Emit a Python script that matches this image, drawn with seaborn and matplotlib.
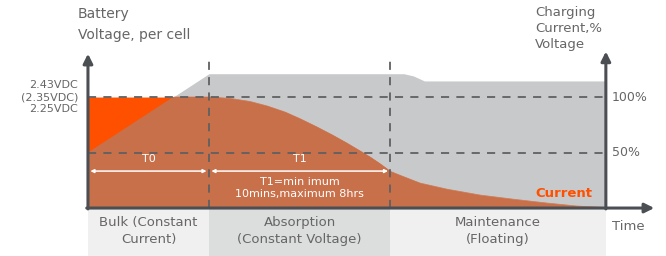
import pandas as pd
import matplotlib
matplotlib.use("Agg")
import matplotlib.pyplot as plt
import seaborn as sns

# charging stages (time in arbitrary units, T0 ends at 1, T1 ends at 2.5)
stage_names = ["Bulk (Constant\nCurrent)", "Absorption\n(Constant Voltage)", "Maintenance\n(Floating)"]
stage_edges = [0.0, 1.0, 2.5, 4.28]

# voltage curve, % of nominal
volt_t = [0.0, 1.0, 2.5, 2.61, 2.69, 2.78, 4.28]
volt_pct = [50, 121, 121, 121, 119, 114.5, 114.5]

# current curve, % of max
cur_t = [0.0, 1.0, 1.174, 1.339, 1.479, 1.628, 1.752, 1.893, 2.025, 2.140, 2.248,
         2.331, 2.413, 2.5, 2.579, 2.744, 2.967, 3.240, 3.512, 3.793, 4.041, 4.28]
cur_pct = [100, 100, 98.8, 96, 92, 86.5, 80.5, 73, 65.5, 58.5, 51.5,
           46, 40, 33, 29.5, 22.5, 17, 11.7, 8, 4.5, 1.8, 0.5]

pct_ticks = [100, 50]
pct_labels = ["100%", "50%"]

GRAY = "#c8c9ca"
ORANGE = "#ff5000"
BROWN = "#c8704a"
AXIS = "#4b4f54"
TEXT = "#666666"
DASH = "#5f6062"

sns.set_theme(style="white")
plt.rcParams['font.family'] = ['DejaVu Sans']

fig = plt.figure(figsize=(6.66, 2.56), dpi=100)
ax = fig.add_axes([0, 0, 1, 1])
ax.set_xlim(-0.727, 4.777)
ax.set_ylim(-43.2, 187.4)
ax.axis("off")

# fills: gray voltage, bright current, brown where the two overlap
volt_fill = ax.fill_between(volt_t, volt_pct, 0, color=GRAY, lw=0, zorder=1)
ax.fill_between(cur_t, cur_pct, 0, color=ORANGE, lw=0, zorder=2)
brown_fill = ax.fill_between(cur_t, cur_pct, 0, color=BROWN, lw=0, zorder=3)
clip = volt_fill.get_paths()[0]
brown_fill.set_clip_path(clip, ax.transData)

df_cur = pd.DataFrame({"t": cur_t, "pct": cur_pct})
sns.lineplot(data=df_cur, x="t", y="pct", ax=ax, color=BROWN, lw=0.5, zorder=3, legend=False)
ax.lines[-1].set_clip_path(clip, ax.transData)

# stage bands under the time axis
band_colors = ["#f0f0f0", "#dcdddd", "#f0f0f0"]
for i, name in enumerate(stage_names):
    x0, x1 = stage_edges[i], stage_edges[i + 1]
    ax.fill_between([x0, x1], -43.2, 0, color=band_colors[i], lw=0, zorder=0)
    ax.text((x0 + x1) / 2, -20.5, name, ha="center", va="center", fontsize=9.5,
            color=TEXT, linespacing=1.45)

# dashed guides
for p in pct_ticks:
    ax.plot([0, stage_edges[-1]], [p, p], color=DASH, lw=1.3, dashes=(4.5, 4), zorder=4)
for e in stage_edges[1:3]:
    ax.plot([e, e], [0, 133], color=DASH, lw=1.3, dashes=(4.5, 4), zorder=4)

# axes with arrows
ax.annotate("", xy=(0, 139), xytext=(0, -0.8),
            arrowprops=dict(arrowstyle="-|>", color=AXIS, lw=2.2, mutation_scale=14,
                            shrinkA=0, shrinkB=0), zorder=6)
ax.annotate("", xy=(stage_edges[-1], 141), xytext=(stage_edges[-1], -0.8),
            arrowprops=dict(arrowstyle="-|>", color=AXIS, lw=2.2, mutation_scale=14,
                            shrinkA=0, shrinkB=0), zorder=6)
ax.annotate("", xy=(4.68, 0), xytext=(-0.01, 0),
            arrowprops=dict(arrowstyle="-|>", color=AXIS, lw=2.2, mutation_scale=14,
                            shrinkA=0, shrinkB=0), zorder=6)

# T0 / T1 spans
for i, lab in enumerate(["T0", "T1"]):
    x0, x1 = stage_edges[i], stage_edges[i + 1]
    ax.annotate("", xy=(x1 - 0.02, 33.3), xytext=(x0 + 0.02, 33.3),
                arrowprops=dict(arrowstyle="<|-|>", color="white", lw=1.1, mutation_scale=5,
                                shrinkA=0, shrinkB=0), zorder=5)
    ax.text((x0 + x1) / 2, 44, lab, ha="center", va="center", fontsize=8, color="white", zorder=5)
ax.text(1.75, 18, "T1=min imum\n10mins,maximum 8hrs", ha="center", va="center",
        fontsize=8, color="white", linespacing=1.3, zorder=5)

# labels
ax.text(-0.083, 181, "Battery\nVoltage, per cell", ha="left", va="top", fontsize=10,
        color=TEXT, linespacing=1.6)
ax.text(-0.083, 100, "2.43VDC\n(2.35VDC)\n2.25VDC", ha="right", va="center", fontsize=8,
        color=TEXT, linespacing=1.2)
ax.text(3.694, 182, "Charging\nCurrent,%\nVoltage", ha="left", va="top", fontsize=9.5,
        color=TEXT, linespacing=1.3)
for p, lab in zip(pct_ticks, pct_labels):
    ax.text(4.33, p, lab, ha="left", va="center", fontsize=9, color=TEXT)
ax.text(4.33, -17, "Time", ha="left", va="center", fontsize=9.5, color=TEXT)
ax.text(3.93, 13.5, "Current", ha="center", va="center", fontsize=9.5, color=ORANGE,
        fontweight="bold", zorder=5)

fig.savefig("out.png", dpi=100)
